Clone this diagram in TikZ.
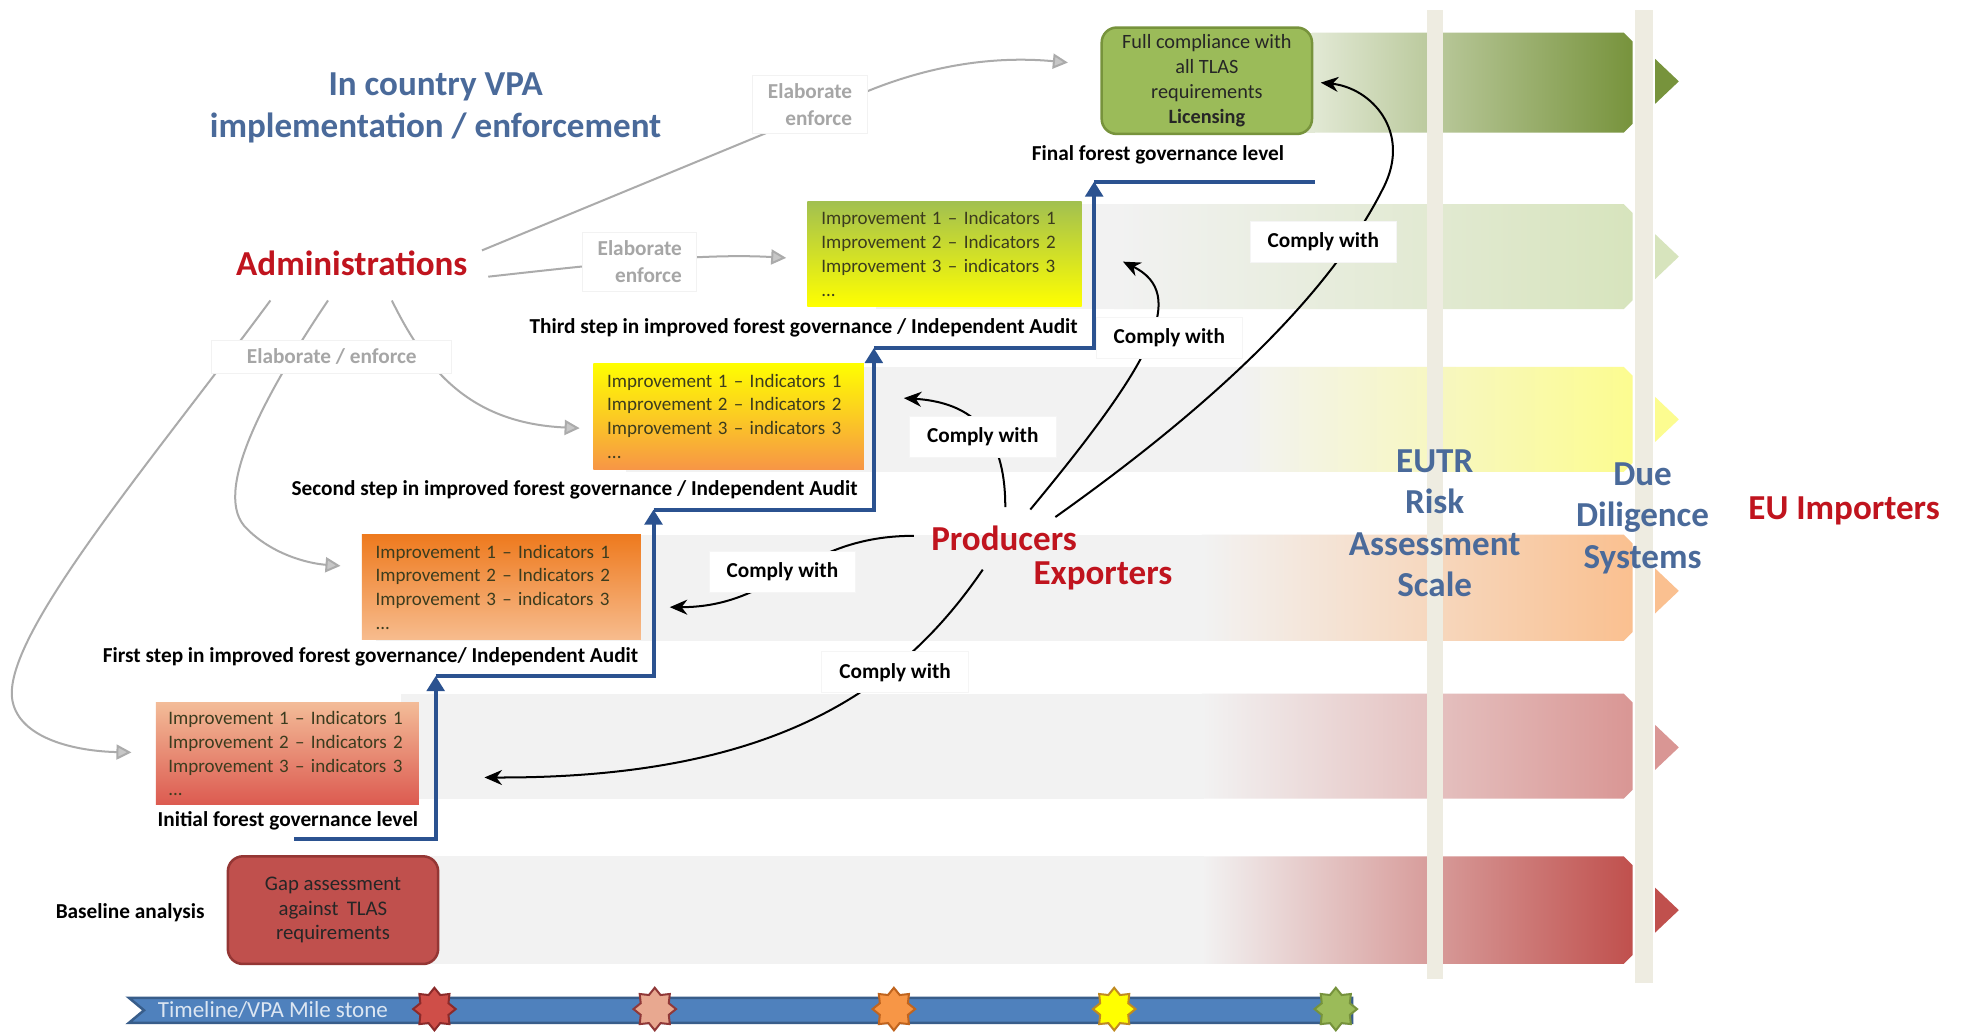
\documentclass[tikz,border=0pt]{standalone}
\usepackage{fontspec}
\setmainfont{Carlito}
\usetikzlibrary{arrows.meta,shapes.geometric}
\definecolor{tblue}{HTML}{4A6A9A}
\definecolor{tred}{HTML}{C0141E}
\definecolor{stairblue}{HTML}{2B5290}
\definecolor{bargray}{HTML}{EEECE1}
\definecolor{bandgray}{HTML}{F2F2F2}
\definecolor{boxtext}{HTML}{3C3C1E}
\definecolor{bandA}{HTML}{77933C}
\definecolor{bandAl}{HTML}{E2E9D5}
\definecolor{bandB}{HTML}{D7E4BD}
\definecolor{bandC}{HTML}{FCFC90}
\definecolor{bandD}{HTML}{FAC090}
\definecolor{bandE}{HTML}{D99694}
\definecolor{bandF}{HTML}{C0504D}
\definecolor{tlfill}{HTML}{4F81BD}
\definecolor{tldraw}{HTML}{385D8A}
\definecolor{greenbox}{HTML}{9BBB59}
\definecolor{gapdraw}{HTML}{943634}
\definecolor{boxyg}{HTML}{A2C050}
\definecolor{boxyel}{HTML}{FFFF00}
\definecolor{boxor}{HTML}{F79646}
\definecolor{boxdor}{HTML}{EE7A1E}
\definecolor{boxlor}{HTML}{F7BC8E}
\definecolor{boxpeach}{HTML}{F3BC98}
\definecolor{boxred}{HTML}{DC5A50}
\definecolor{tltext}{HTML}{DCE6F2}
\definecolor{msA}{HTML}{CF4E48}
\definecolor{msAd}{HTML}{8B2A2A}
\definecolor{msB}{HTML}{E8A890}
\definecolor{msBd}{HTML}{903838}
\definecolor{msC}{HTML}{F79646}
\definecolor{msCd}{HTML}{C0641E}
\definecolor{msD}{HTML}{FFFF00}
\definecolor{msDd}{HTML}{C08A20}
\definecolor{msE}{HTML}{9BBB59}
\definecolor{msEd}{HTML}{76923C}
\newcommand\myband[5]{%
  \fill[bandgray] (#3,#1) rectangle ({#4+2},#2);
  \shade[left color=bandgray,right color=#5] (#4,#1) -- (1297,#1) -- (1304,{#1+7}) -- (1304,{#2-7}) -- (1297,#2) -- (#4,#2) -- cycle;
}
\newcommand\mytri[2]{\fill[#2] (1322,{#1-18}) -- (1341,#1) -- (1322,{#1+18}) -- cycle;}
\newcommand\implist{Improvement\hspace{0.3em}1 – Indicators 1\\Improvement\hspace{0.3em}2 – Indicators 2\\Improvement\hspace{0.3em}3 – indicators 3\\...}
\tikzset{
  bigtxt/.style={font=\fontsize{14pt}{16.6pt}\selectfont\bfseries, align=center, inner sep=0pt},
  lbl/.style={font=\fontsize{8.5pt}{10pt}\selectfont\bfseries, inner sep=0pt},
  impbox/.style={align=left, font=\fontsize{7.6pt}{9.5pt}\selectfont, text=boxtext, inner xsep=5.5pt, inner ysep=0pt},
  comply/.style={fill=white, draw=black!4, font=\fontsize{8.5pt}{10pt}\selectfont\bfseries, inner xsep=7pt, inner ysep=4.5pt},
  elab/.style={fill=white, draw=black!5, text=black!35, font=\fontsize{8.5pt}{10.5pt}\selectfont\bfseries, align=right, inner xsep=6pt, inner ysep=3.5pt},
  garrow/.style={draw=black!33, line width=0.8pt, -{Triangle[length=6pt,width=6pt,fill=black!22]}},
  barrow/.style={draw=black, line width=0.8pt, -{Stealth[length=7pt,width=6pt]}},
  stairarrow/.style={draw=stairblue, line width=1.6pt, -{Triangle[length=6pt,width=7pt]}},
  stairline/.style={draw=stairblue, line width=1.6pt},
  mstone/.style={star, star points=8, star point ratio=1.4, minimum size=17pt, inner sep=0pt, line width=0.8pt},
}
\begin{document}
\begin{tikzpicture}[x=0.5pt,y=-0.5pt]
\useasboundingbox (0,0) rectangle (1568,824);
\fill[white] (0,0) rectangle (1568,824);

% ---- bands ----
\fill[bandAl] (1000,26) rectangle (1050,106);
\shade[left color=bandAl,right color=bandA] (1048,26) -- (1297,26) -- (1304,33) -- (1304,99) -- (1297,106) -- (1048,106) -- cycle;
\myband{163}{247}{700}{890}{bandB}
\myband{293}{377}{500}{990}{bandC}
\myband{427}{512}{300}{960}{bandD}
\myband{554}{638}{320}{960}{bandE}
\myband{684}{770}{250}{960}{bandF}
\mytri{65}{bandA}
\mytri{205}{bandB}
\mytri{335}{bandC}
\mytri{472}{bandD}
\mytri{597}{bandE}
\mytri{727}{bandF}

% ---- vertical bars ----
\fill[bargray] (1140,8) rectangle (1153,782);
\fill[bargray] (1306,8) rectangle (1320,785);

% ---- boxes ----
\node[draw=bandA, fill=greenbox, line width=1pt, rounded corners=6pt, minimum width=84pt, minimum height=42.5pt, inner sep=0pt, align=center, text=black!85, font=\fontsize{8.1pt}{10pt}\selectfont] (bfull) at (964,64.5) {Full compliance with\\all TLAS\\requirements\\\textbf{Licensing}};
\node[impbox, top color=boxyg, bottom color=boxyel, text width=98.5pt, minimum height=42pt] (bthree) at (754.5,203) {\implist};
\node[impbox, top color=boxyel, bottom color=boxor, text width=97pt, minimum height=42.5pt] (btwo) at (582,332.5) {\implist};
\node[impbox, top color=boxdor, bottom color=boxlor, text width=100.5pt, minimum height=42pt] (bone) at (400.5,469) {\implist};
\node[impbox, top color=boxpeach, bottom color=boxred, inner xsep=5pt, text width=95pt, minimum height=41pt] (bzero) at (229.5,602) {\implist};
\node[draw=gapdraw, fill=bandF, line width=1pt, rounded corners=6pt, minimum width=84pt, minimum height=43pt, inner sep=0pt, align=center, text=black!85, font=\fontsize{8.3pt}{9.8pt}\selectfont] (bgap) at (266,727) {Gap assessment\\against\hspace{0.4em}TLAS\\requirements};

% ---- step labels ----
\node[lbl] (lfin) at (925,124) {Final forest governance level};
\node[lbl] (lthree) at (642,262) {Third step in improved forest governance / Independent Audit};
\node[lbl] (ltwo) at (459,391) {Second step in improved forest governance / Independent Audit};
\node[lbl] (lone) at (296,525) {First step in improved forest governance/ Independent Audit};
\node[lbl] (lzero) at (230,656) {Initial forest governance level};
\node[lbl] (lbase) at (104,729) {Baseline analysis};

% ---- staircase ----
\coordinate (s0) at (235,670);
\coordinate (t1) at (348,540);
\coordinate (t2) at (522,407);
\coordinate (t3) at (698,278);
\coordinate (t4) at (874,145);
\coordinate (s5) at (1050,145);
\draw[stairarrow] (s0) -| (t1);
\draw[stairarrow] (t1) -| (t2);
\draw[stairarrow] (t2) -| (t3);
\draw[stairarrow] (t3) -| (t4);
\draw[stairline] (t4) -- (s5);

% ---- timeline ----
\coordinate (tlA) at (103,797);
\coordinate (tlB) at (1080,797);
\coordinate (tlC) at (1080,817);
\coordinate (tlD) at (103,817);
\coordinate (tlN) at (115,807);
\draw[fill=tlfill, draw=tldraw, line width=1pt] (tlA) -- (tlB) -- (tlC) -- (tlD) -- (tlN) -- cycle;
\node[text=tltext, font=\fontsize{9.2pt}{11pt}\selectfont, inner sep=0pt] (tltxt) at (218,807) {Timeline/VPA Mile stone};
\node[mstone, fill=msA, draw=msAd] (mA) at (347,806) {};
\node[mstone, fill=msB, draw=msBd] (mB) at (523,806) {};
\node[mstone, fill=msC, draw=msCd] (mC) at (714,806) {};
\node[mstone, fill=msD, draw=msDd] (mD) at (890,806) {};
\node[mstone, fill=msE, draw=msEd] (mE) at (1067,806) {};

% ---- big texts ----
\node[bigtxt, text=tblue] (title) at (348,86) {In country VPA\\implementation / enforcement};
\node[bigtxt, text=tred] (admin) at (281,210) {Administrations};
\node[bigtxt, text=tred] (prod) at (802,430) {Producers};
\node[bigtxt, text=tred] (expo) at (881,460) {Exporters};
\node[bigtxt, text=tred] (euimp) at (1473,408) {EU Importers};

% ---- gray arrows from Administrations ----
\coordinate (ga1) at (385,200); \coordinate (gt1) at (853,50);
\coordinate (ga2) at (390,221); \coordinate (gt2) at (628,206);
\coordinate (ga3) at (216,240); \coordinate (gt3) at (105,601);
\coordinate (ga4) at (262,240); \coordinate (gt4) at (272,452);
\coordinate (ga5) at (313,240); \coordinate (gt5) at (463,342);
\draw[garrow] (ga1) -- (695,72) .. controls (750,50) and (800,45) .. (gt1);
\draw[garrow] (ga2) .. controls (480,211) and (560,202) .. (gt2);
\draw[garrow] (ga3) .. controls (120,370) and (0,510) .. (10,560) .. controls (16,590) and (60,600) .. (gt3);
\draw[garrow] (ga4) .. controls (215,310) and (170,390) .. (195,420) .. controls (215,442) and (245,450) .. (gt4);
\draw[garrow] (ga5) .. controls (340,295) and (375,338) .. (gt5);
\node[elab] (eA) at (647,83.5) {Elaborate\\enforce};
\node[elab] (eB) at (511,209) {Elaborate\\enforce};
\node[elab, inner xsep=14pt] (eC) at (265,285) {Elaborate / enforce};

% ---- black arrows from Producers ----
\coordinate (pa1) at (730,428); \coordinate (pt1) at (535,485);
\coordinate (pa2) at (803,405); \coordinate (pt2) at (722,318);
\coordinate (pa3) at (823,407); \coordinate (pt3) at (897,209);
\coordinate (pa4) at (843,413); \coordinate (pt4) at (1055,66);
\coordinate (pa5) at (785,455); \coordinate (pt5) at (387,621);
\draw[barrow] (pa1) .. controls (640,428) and (620,485) .. (pt1);
\draw[barrow] (pa2) .. controls (803,355) and (785,322) .. (pt2);
\draw[barrow] (pa3) .. controls (920,290) and (950,235) .. (pt3);
\draw[barrow] (pa4) .. controls (960,330) and (1060,240) .. (1105,150) .. controls (1128,105) and (1095,70) .. (pt4);
\draw[barrow] (pa5) .. controls (720,550) and (620,622) .. (pt5);
\node[comply] (cA) at (625,457) {Comply with};
\node[comply] (cB) at (785,349) {Comply with};
\node[comply] (cC) at (934,270) {Comply with};
\node[comply] (cD) at (1057,193) {Comply with};
\node[comply] (cE) at (715,537) {Comply with};

% ---- right-hand texts ----
\node[bigtxt, text=tblue] (eutr) at (1146,418) {EUTR\\Risk\\Assessment\\Scale};
\node[bigtxt, text=tblue] (dds) at (1312,414) {Due\\Diligence\\Systems};
\end{tikzpicture}
\end{document}
